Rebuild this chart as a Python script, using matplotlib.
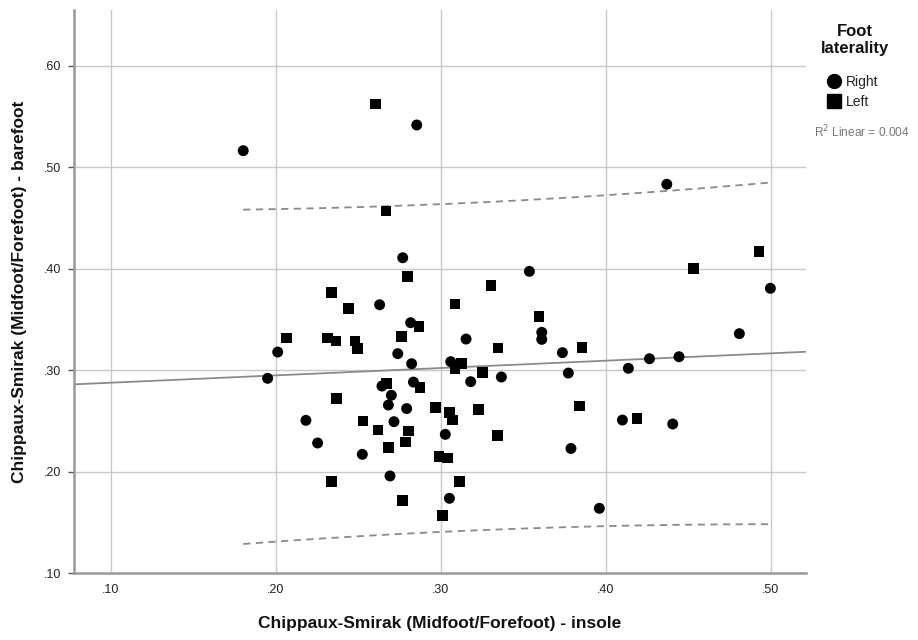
import numpy as np
import matplotlib
matplotlib.use("Agg")
import matplotlib.pyplot as plt
from matplotlib.lines import Line2D

plt.rcParams['font.family'] = ['Liberation Sans', 'DejaVu Sans']

# Right foot (circles): insole, barefoot
right_x = [0.1802, 0.2854, 0.2769, 0.4370, 0.3537, 0.4998, 0.2817, 0.3612, 0.3612, 0.3153,
           0.4810, 0.3737, 0.2739, 0.2823, 0.3060, 0.3367, 0.3181, 0.3773, 0.4137, 0.4265,
           0.4444, 0.2834, 0.2793, 0.4101, 0.4406, 0.3027, 0.3789, 0.3052, 0.3961, 0.2629,
           0.2011, 0.1950, 0.2643, 0.2700, 0.2682, 0.2182, 0.2716, 0.2253, 0.2524, 0.2692]
right_y = [0.5164, 0.5417, 0.4109, 0.4833, 0.3975, 0.3808, 0.3469, 0.3374, 0.3305, 0.3308,
           0.3361, 0.3174, 0.3164, 0.3065, 0.3085, 0.2934, 0.2888, 0.2973, 0.3020, 0.3114,
           0.3134, 0.2884, 0.2623, 0.2510, 0.2471, 0.2369, 0.2230, 0.1739, 0.1640, 0.3646,
           0.3180, 0.2921, 0.2845, 0.2754, 0.2658, 0.2507, 0.2494, 0.2284, 0.2172, 0.1959]

# Left foot (squares)
left_x = [0.2603, 0.2668, 0.2797, 0.2336, 0.4928, 0.4531, 0.3304, 0.3086, 0.2868, 0.2763,
          0.3594, 0.3347, 0.3856, 0.3127, 0.3086, 0.3254, 0.2874, 0.2969, 0.3052, 0.3072,
          0.3230, 0.3840, 0.4190, 0.2805, 0.2785, 0.3343, 0.2989, 0.3042, 0.3112, 0.2769,
          0.3010, 0.2439, 0.2065, 0.2312, 0.2364, 0.2480, 0.2494, 0.2672, 0.2366, 0.2527,
          0.2619, 0.2684, 0.2338]
left_y = [0.5624, 0.4570, 0.3922, 0.3768, 0.4172, 0.4005, 0.3837, 0.3653, 0.3433, 0.3331,
          0.3529, 0.3220, 0.3227, 0.3069, 0.3020, 0.2980, 0.2833, 0.2632, 0.2583, 0.2510,
          0.2612, 0.2648, 0.2523, 0.2402, 0.2294, 0.2356, 0.2149, 0.2136, 0.1906, 0.1715,
          0.1567, 0.3611, 0.3318, 0.3318, 0.3289, 0.3289, 0.3217, 0.2872, 0.2720, 0.2501,
          0.2412, 0.2238, 0.1906]

x_ticks = [0.10, 0.20, 0.30, 0.40, 0.50]
y_ticks = [0.10, 0.20, 0.30, 0.40, 0.50, 0.60]
x_tick_labels = ['.10', '.20', '.30', '.40', '.50']
y_tick_labels = ['.10', '.20', '.30', '.40', '.50', '.60']
r2_text = 'R$^2$ Linear = 0.004'

fig = plt.figure(figsize=(9.18, 6.4), dpi=100)
ax = fig.add_axes([74/918, 1 - 573.3/640, (806-74)/918, (573.3-10)/640])

xmin, xmax = 0.0776, 0.5214
ymin, ymax = 0.10, 0.655
ax.set_xlim(xmin, xmax)
ax.set_ylim(ymin, ymax)

grid_c = '#c8c8c8'
for t in x_ticks:
    ax.axvline(t, color=grid_c, lw=1.0, zorder=0)
for t in y_ticks[1:]:
    ax.axhline(t, color=grid_c, lw=1.0, zorder=0)

# regression with 95% individual prediction interval
allx = np.array(right_x + left_x)
ally = np.array(right_y + left_y)
n = len(allx)
b, a = np.polyfit(allx, ally, 1)
resid = ally - (a + b * allx)
s = np.sqrt(np.sum(resid**2) / (n - 2))
xbar = allx.mean()
sxx = np.sum((allx - xbar)**2)
tval = 1.989
xx = np.linspace(xmin, xmax, 200)
ax.plot(xx, a + b * xx, color='#8a8a8a', lw=1.3, zorder=2)
xp = np.linspace(allx.min(), allx.max(), 200)
half = tval * s * np.sqrt(1 + 1/n + (xp - xbar)**2 / sxx)
ax.plot(xp, a + b * xp + half, color='#8a8a8a', lw=1.3, ls=(0, (4, 3)), zorder=2)
ax.plot(xp, a + b * xp - half, color='#8a8a8a', lw=1.3, ls=(0, (4, 3)), zorder=2)

ax.scatter(right_x, right_y, marker='o', s=62, color='black', edgecolors='none', zorder=3)
ax.scatter(left_x, left_y, marker='s', s=58, color='black', edgecolors='none', zorder=3)

ax.set_xticks(x_ticks)
ax.set_xticklabels(x_tick_labels)
ax.set_yticks(y_ticks)
ax.set_yticklabels(y_tick_labels)
ax.tick_params(axis='both', colors='#555555', labelcolor='#222222', labelsize=9,
               length=4, width=1, direction='out', pad=5)
ax.tick_params(axis='x', length=0, pad=8)
for sp in ['top', 'right']:
    ax.spines[sp].set_visible(False)
for sp in ['left', 'bottom']:
    ax.spines[sp].set_color('#999999')
    ax.spines[sp].set_linewidth(1.8)

ax.set_xlabel('Chippaux-Smirak (Midfoot/Forefoot) - insole', fontsize=12.5,
              fontweight='bold', labelpad=14, color='#111111')
ax.set_ylabel('Chippaux-Smirak (Midfoot/Forefoot) - barefoot', fontsize=12.5,
              fontweight='bold', labelpad=12, color='#111111')

# legend
fig.text(855/918, 1 - 40/640, 'Foot\nlaterality', ha='center', va='center',
         fontsize=12, fontweight='bold', linespacing=1.25, color='#111111')
fig.add_artist(Line2D([834/918], [1 - 81/640], marker='o', markersize=10,
                      color='black', transform=fig.transFigure))
fig.add_artist(Line2D([834/918], [1 - 101/640], marker='s', markersize=10,
                      color='black', transform=fig.transFigure))
fig.text(846/918, 1 - 82/640, 'Right', ha='left', va='center', fontsize=10, color='#222222')
fig.text(846/918, 1 - 102/640, 'Left', ha='left', va='center', fontsize=10, color='#222222')
fig.text(862/918, 1 - 132/640, r2_text, ha='center', va='center', fontsize=8.6, color='#777777')

fig.savefig('out.png', dpi=100)
